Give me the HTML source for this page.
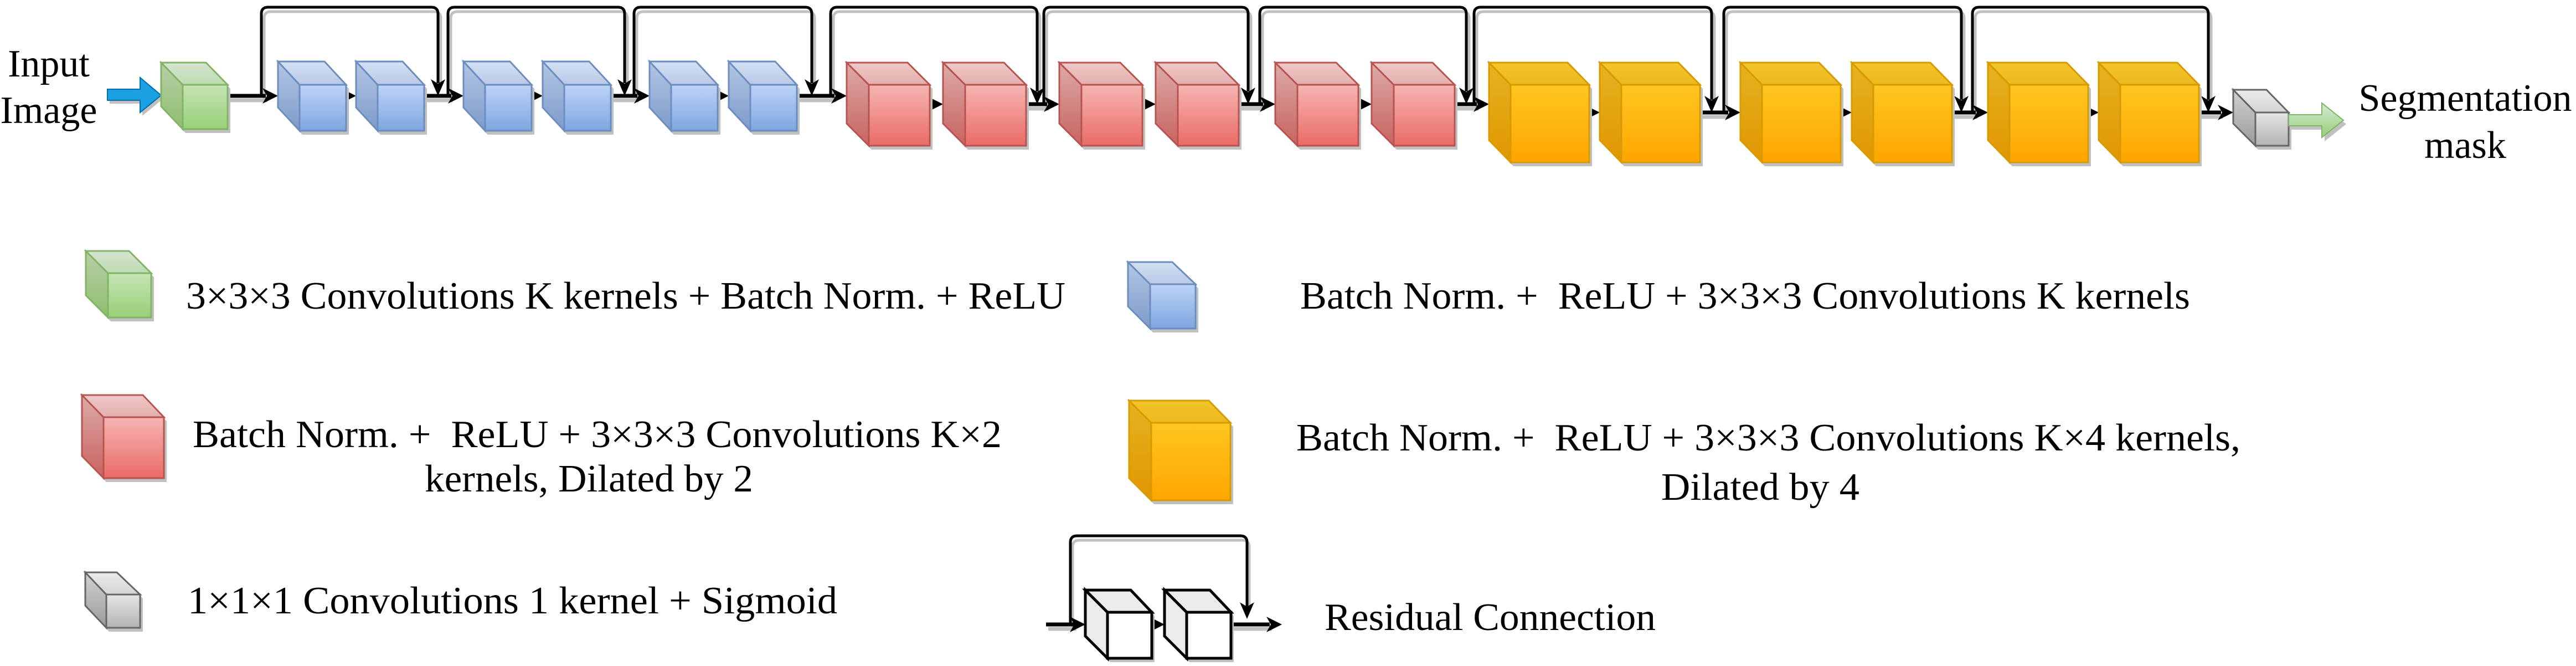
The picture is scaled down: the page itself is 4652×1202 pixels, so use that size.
<!DOCTYPE html>
<html><head><meta charset="utf-8"><style>
html,body{margin:0;padding:0;background:#fff;}
svg{display:block;}
text{font-family:"Liberation Serif",serif;font-size:70px;fill:#000;white-space:pre;}
</style></head><body>
<svg width="4652" height="1202" viewBox="0 0 4652 1202" xmlns="http://www.w3.org/2000/svg">
<defs>
<linearGradient id="bt" x1="0" y1="0" x2="0" y2="1"><stop offset="0" stop-color="#d4e0f3"/><stop offset="1" stop-color="#b8c9e6"/></linearGradient>
<linearGradient id="bl" x1="0" y1="0" x2="0" y2="1"><stop offset="0" stop-color="#b4c6e4"/><stop offset="1" stop-color="#7c9aca"/></linearGradient>
<linearGradient id="bf" x1="0" y1="0" x2="0" y2="1"><stop offset="0" stop-color="#bdd3f6"/><stop offset="1" stop-color="#7ea6e0"/></linearGradient>
<linearGradient id="rt" x1="0" y1="0" x2="0" y2="1"><stop offset="0" stop-color="#ecc8c7"/><stop offset="1" stop-color="#e4afad"/></linearGradient>
<linearGradient id="rl" x1="0" y1="0" x2="0" y2="1"><stop offset="0" stop-color="#dcaaa8"/><stop offset="1" stop-color="#c9635f"/></linearGradient>
<linearGradient id="rf" x1="0" y1="0" x2="0" y2="1"><stop offset="0" stop-color="#f5b5b3"/><stop offset="1" stop-color="#ea6b66"/></linearGradient>
<linearGradient id="yt" x1="0" y1="0" x2="0" y2="1"><stop offset="0" stop-color="#f1c52a"/><stop offset="1" stop-color="#ecb91f"/></linearGradient>
<linearGradient id="yl" x1="0" y1="0" x2="0" y2="1"><stop offset="0" stop-color="#e6b322"/><stop offset="1" stop-color="#e09600"/></linearGradient>
<linearGradient id="yf" x1="0" y1="0" x2="0" y2="1"><stop offset="0" stop-color="#ffc621"/><stop offset="1" stop-color="#ffa500"/></linearGradient>
<linearGradient id="gt" x1="0" y1="0" x2="0" y2="1"><stop offset="0" stop-color="#d6e4d0"/><stop offset="1" stop-color="#bddbb0"/></linearGradient>
<linearGradient id="gl" x1="0" y1="0" x2="0" y2="1"><stop offset="0" stop-color="#b7cfa9"/><stop offset="1" stop-color="#8fbe6c"/></linearGradient>
<linearGradient id="gf" x1="0" y1="0" x2="0" y2="1"><stop offset="0" stop-color="#c6e4b4"/><stop offset="1" stop-color="#97d077"/></linearGradient>
<linearGradient id="kt" x1="0" y1="0" x2="0" y2="1"><stop offset="0" stop-color="#ebebeb"/><stop offset="1" stop-color="#d4d4d4"/></linearGradient>
<linearGradient id="kl" x1="0" y1="0" x2="0" y2="1"><stop offset="0" stop-color="#d2d2d2"/><stop offset="1" stop-color="#9a9a9a"/></linearGradient>
<linearGradient id="kf" x1="0" y1="0" x2="0" y2="1"><stop offset="0" stop-color="#e6e6e6"/><stop offset="1" stop-color="#b3b3b3"/></linearGradient>
<linearGradient id="ga" x1="0" y1="0" x2="0" y2="1"><stop offset="0" stop-color="#d5e8d4"/><stop offset="1" stop-color="#97d077"/></linearGradient>

<g id="blue">
<polygon points="5,118 89,118 128,160 128,243 44,243 5,201" fill="#c0c0c0"/>
<polygon points="0,111 39,153 39,236 0,194" fill="url(#bl)" stroke="#6c8ebf" stroke-width="3"/>
<polygon points="0,111 84,111 123,153 39,153" fill="url(#bt)" stroke="#6c8ebf" stroke-width="3"/>
<rect x="39" y="153" width="84" height="83" fill="url(#bf)" stroke="#6c8ebf" stroke-width="3"/>
</g>
<g id="red">
<polygon points="5,120 115,120 155,160 155,270 45,270 5,230" fill="#c0c0c0"/>
<polygon points="0,113 40,153 40,263 0,223" fill="url(#rl)" stroke="#b85450" stroke-width="3"/>
<polygon points="0,113 110,113 150,153 40,153" fill="url(#rt)" stroke="#b85450" stroke-width="3"/>
<rect x="40" y="153" width="110" height="110" fill="url(#rf)" stroke="#b85450" stroke-width="3"/>
</g>
<g id="yel">
<polygon points="5,120 147,120 186,160 186,300 44,300 5,260" fill="#c0c0c0"/>
<polygon points="0,113 39,153 39,293 0,253" fill="url(#yl)" stroke="#d79b00" stroke-width="3"/>
<polygon points="0,113 142,113 181,153 39,153" fill="url(#yt)" stroke="#d79b00" stroke-width="3"/>
<rect x="39" y="153" width="142" height="140" fill="url(#yf)" stroke="#d79b00" stroke-width="3"/>
</g>
<g id="wc">
<polygon points="5,1072 87,1072 125,1112 125,1195 45,1195 5,1155" fill="#c0c0c0"/>
<polygon points="0,1065 40,1105 40,1188 0,1148" fill="#ececec" stroke="#000" stroke-width="5"/>
<polygon points="0,1065 82,1065 120,1105 40,1105" fill="#ececec" stroke="#000" stroke-width="5"/>
<rect x="40" y="1105" width="80" height="83" fill="#fff" stroke="#000" stroke-width="5"/>
</g>
<g id="ah"><polygon points="0,0 -28,-14 -20,0 -28,14" fill="#000"/></g>
<g id="ahs"><polygon points="0,0 -28,-14 -20,0 -28,14" fill="#c0c0c0"/></g>
<g id="ad"><polygon points="0,0 -13,-30 0,-22 13,-30" fill="#000"/></g>
</defs>

<!-- Input arrow -->
<polygon points="198,167 257,167 257,146 295,178 257,209 257,187 198,187" fill="#c0c0c0"/>
<polygon points="194,161 253,161 253,140 291,172 253,203 253,181 194,181" fill="#1ba1e2" stroke="#006eaf" stroke-width="2"/>
<text x="88" y="138" text-anchor="middle">Input</text>
<text x="88" y="222" text-anchor="middle">Image</text>

<!-- shadows of main lines -->
<g stroke="#c0c0c0" stroke-width="7" fill="none" transform="translate(3,8)">
<path d="M411 173H480M625 173H623M766 173H815M903 173H958M1103 173H1151M1296 173H1294M1439 173H1507M1679 188H1681M1853 188H1891M2063 188H2065M2237 188H2281M2453 188H2455M2627 188H2667M2870 203H2867M3070 203H3121M3325 203H3322M3525 203H3568M3771 203H3768M3971 203H4011"/>
</g>
<g stroke="#c0c0c0" stroke-width="5" fill="none" transform="translate(5,8)">
<path d="M472 173V25Q472 13 484 13H779Q791 13 791 25V145"/>
<path d="M809 173V25Q809 13 821 13H1116Q1128 13 1128 25V145"/>
<path d="M1145 173V25Q1145 13 1157 13H1454Q1466 13 1466 25V145"/>
<path d="M1500 173V25Q1500 13 1512 13H1861Q1873 13 1873 25V160"/>
<path d="M1885 188V25Q1885 13 1897 13H2242Q2254 13 2254 25V160"/>
<path d="M2275 188V25Q2275 13 2287 13H2636Q2648 13 2648 25V160"/>
<path d="M2662 188V25Q2662 13 2674 13H3079Q3091 13 3091 25V175"/>
<path d="M3113 203V25Q3113 13 3125 13H3530Q3542 13 3542 25V175"/>
<path d="M3562 203V25Q3562 13 3574 13H3976Q3988 13 3988 25V175"/>
</g>

<!-- main lines -->
<g stroke="#000" stroke-width="7" fill="none">
<path d="M411 173H480M625 173H623M766 173H815M903 173H958M1103 173H1151M1296 173H1294M1439 173H1507M1679 188H1681M1853 188H1891M2063 188H2065M2237 188H2281M2453 188H2455M2627 188H2667M2870 203H2867M3070 203H3121M3325 203H3322M3525 203H3568M3771 203H3768M3971 203H4011"/>
<path d="M625 173H630M903 173H965M1296 173H1300M1679 188H1690M2063 188H2070M2453 188H2460M2870 203H2875M3325 203H3330M3771 203H3775"/>
</g>
<!-- skip connections -->
<g stroke="#000" stroke-width="5" fill="none">
<path d="M472 173V25Q472 13 484 13H779Q791 13 791 25V150"/>
<path d="M809 173V25Q809 13 821 13H1116Q1128 13 1128 25V150"/>
<path d="M1145 173V25Q1145 13 1157 13H1454Q1466 13 1466 25V150"/>
<path d="M1500 173V25Q1500 13 1512 13H1861Q1873 13 1873 25V165"/>
<path d="M1885 188V25Q1885 13 1897 13H2242Q2254 13 2254 25V165"/>
<path d="M2275 188V25Q2275 13 2287 13H2636Q2648 13 2648 25V165"/>
<path d="M2662 188V25Q2662 13 2674 13H3079Q3091 13 3091 25V180"/>
<path d="M3113 203V25Q3113 13 3125 13H3530Q3542 13 3542 25V180"/>
<path d="M3562 203V25Q3562 13 3574 13H3976Q3988 13 3988 25V180"/>
</g>
<!-- arrowheads right -->
<use href="#ah" x="502" y="173"/><use href="#ah" x="643" y="173"/>
<use href="#ah" x="837" y="173"/><use href="#ah" x="980" y="173"/>
<use href="#ah" x="1173" y="173"/><use href="#ah" x="1316" y="173"/>
<use href="#ah" x="1529" y="173"/><use href="#ah" x="1703" y="188"/>
<use href="#ah" x="1913" y="188"/><use href="#ah" x="2087" y="188"/>
<use href="#ah" x="2303" y="188"/><use href="#ah" x="2477" y="188"/>
<use href="#ah" x="2689" y="188"/><use href="#ah" x="2889" y="203"/>
<use href="#ah" x="3143" y="203"/><use href="#ah" x="3344" y="203"/>
<use href="#ah" x="3590" y="203"/><use href="#ah" x="3790" y="203"/>
<use href="#ah" x="4033" y="203"/>
<!-- arrowheads down -->
<use href="#ad" x="791" y="173"/><use href="#ad" x="1128" y="173"/><use href="#ad" x="1466" y="173"/>
<use href="#ad" x="1873" y="188"/><use href="#ad" x="2254" y="188"/><use href="#ad" x="2648" y="188"/>
<use href="#ad" x="3091" y="203"/><use href="#ad" x="3542" y="203"/><use href="#ad" x="3988" y="203"/>

<!-- green cube -->
<polygon points="296,120 377,120 416,160 416,240 335,240 296,199" fill="#c0c0c0"/>
<polygon points="291,113 330,153 330,233 291,192" fill="url(#gl)" stroke="#82b366" stroke-width="3"/>
<polygon points="291,113 372,113 411,153 330,153" fill="url(#gt)" stroke="#82b366" stroke-width="3"/>
<rect x="330" y="153" width="81" height="80" fill="url(#gf)" stroke="#82b366" stroke-width="3"/>

<use href="#blue" x="502"/><use href="#blue" x="643"/><use href="#blue" x="837"/>
<use href="#blue" x="980"/><use href="#blue" x="1173"/><use href="#blue" x="1316"/>
<use href="#red" x="1529"/><use href="#red" x="1703"/><use href="#red" x="1913"/>
<use href="#red" x="2087"/><use href="#red" x="2303"/><use href="#red" x="2477"/>
<use href="#yel" x="2689"/><use href="#yel" x="2889"/><use href="#yel" x="3143"/>
<use href="#yel" x="3344"/><use href="#yel" x="3590"/><use href="#yel" x="3790"/>

<!-- gray cube -->
<polygon points="4038,169 4098,169 4138,210 4138,270 4078,270 4038,230" fill="#c0c0c0"/>
<polygon points="4033,162 4073,203 4073,263 4033,223" fill="url(#kl)" stroke="#666" stroke-width="3"/>
<polygon points="4033,162 4093,162 4133,203 4073,203" fill="url(#kt)" stroke="#666" stroke-width="3"/>
<rect x="4073" y="203" width="60" height="60" fill="url(#kf)" stroke="#666" stroke-width="3"/>
<!-- output arrow -->
<polygon points="4138,214 4198,214 4198,193 4237,224 4198,255 4198,234 4138,234" fill="#c0c0c0"/>
<polygon points="4133,207 4193,207 4193,186 4232,217 4193,248 4193,227 4133,227" fill="url(#ga)" stroke="#82b366" stroke-width="2"/>
<text x="4452" y="200" text-anchor="middle">Segmentation</text>
<text x="4452" y="285" text-anchor="middle">mask</text>

<!-- legend green -->
<polygon points="160,460 238,460 278,500 278,580 200,580 160,540" fill="#c0c0c0"/>
<polygon points="155,453 195,493 195,573 155,533" fill="url(#gl)" stroke="#82b366" stroke-width="3"/>
<polygon points="155,453 233,453 273,493 195,493" fill="url(#gt)" stroke="#82b366" stroke-width="3"/>
<rect x="195" y="493" width="78" height="80" fill="url(#gf)" stroke="#82b366" stroke-width="3"/>
<text x="336" y="557" textLength="1588" lengthAdjust="spacingAndGlyphs">3×3×3 Convolutions K kernels + Batch Norm. + ReLU</text>

<!-- legend blue -->
<polygon points="2042,480 2122,480 2164,520 2164,600 2082,600 2042,560" fill="#c0c0c0"/>
<polygon points="2037,473 2077,513 2077,593 2037,553" fill="url(#bl)" stroke="#6c8ebf" stroke-width="3"/>
<polygon points="2037,473 2117,473 2159,513 2077,513" fill="url(#bt)" stroke="#6c8ebf" stroke-width="3"/>
<rect x="2077" y="513" width="82" height="80" fill="url(#bf)" stroke="#6c8ebf" stroke-width="3"/>
<text x="2348" y="557" textLength="1607" lengthAdjust="spacingAndGlyphs">Batch Norm. +  ReLU + 3×3×3 Convolutions K kernels</text>

<!-- legend red -->
<polygon points="153,720 263,720 301,760 301,870 192,870 153,830" fill="#c0c0c0"/>
<polygon points="148,713 187,753 187,863 148,823" fill="url(#rl)" stroke="#b85450" stroke-width="3"/>
<polygon points="148,713 258,713 296,753 187,753" fill="url(#rt)" stroke="#b85450" stroke-width="3"/>
<rect x="187" y="753" width="109" height="110" fill="url(#rf)" stroke="#b85450" stroke-width="3"/>
<text x="348" y="807" textLength="1461" lengthAdjust="spacingAndGlyphs">Batch Norm. +  ReLU + 3×3×3 Convolutions K×2</text>
<text x="767" y="887" textLength="593" lengthAdjust="spacingAndGlyphs">kernels, Dilated by 2</text>

<!-- legend yellow -->
<polygon points="2044,730 2188,730 2227,770 2227,910 2084,910 2044,870" fill="#c0c0c0"/>
<polygon points="2039,723 2079,763 2079,903 2039,863" fill="url(#yl)" stroke="#d79b00" stroke-width="3"/>
<polygon points="2039,723 2183,723 2222,763 2079,763" fill="url(#yt)" stroke="#d79b00" stroke-width="3"/>
<rect x="2079" y="763" width="143" height="140" fill="url(#yf)" stroke="#d79b00" stroke-width="3"/>
<text x="2341" y="813" textLength="1705" lengthAdjust="spacingAndGlyphs">Batch Norm. +  ReLU + 3×3×3 Convolutions K×4 kernels,</text>
<text x="3000" y="902" textLength="358" lengthAdjust="spacingAndGlyphs">Dilated by 4</text>

<!-- legend gray -->
<polygon points="159,1040 216,1040 258,1080 258,1140 197,1140 159,1100" fill="#c0c0c0"/>
<polygon points="154,1033 192,1073 192,1133 154,1093" fill="url(#kl)" stroke="#666" stroke-width="3"/>
<polygon points="154,1033 211,1033 253,1073 192,1073" fill="url(#kt)" stroke="#666" stroke-width="3"/>
<rect x="192" y="1073" width="61" height="60" fill="url(#kf)" stroke="#666" stroke-width="3"/>
<text x="339" y="1107" textLength="1173" lengthAdjust="spacingAndGlyphs">1×1×1 Convolutions 1 kernel + Sigmoid</text>

<!-- legend residual -->
<g stroke="#c0c0c0" fill="none" transform="translate(4,8)">
<path d="M1933 1127V979Q1933 967 1945 967H2240Q2252 967 2252 979V1095" stroke-width="5"/>
<path d="M1889 1127H1940M2223 1127H2293" stroke-width="7"/>
</g>
<path d="M1889 1127H1940M2080 1127H2085M2223 1127H2293" stroke="#000" stroke-width="7" fill="none"/>
<path d="M1933 1127V979Q1933 967 1945 967H2240Q2252 967 2252 979V1095" stroke="#000" stroke-width="5" fill="none"/>
<use href="#ah" x="1960" y="1127"/><use href="#ah" x="2103" y="1127"/><use href="#ah" x="2315" y="1127"/>
<use href="#ad" x="2252" y="1117"/>
<use href="#wc" x="1960"/><use href="#wc" x="2103"/>
<text x="2392" y="1137" textLength="598" lengthAdjust="spacingAndGlyphs">Residual Connection</text>
</svg>
</body></html>
